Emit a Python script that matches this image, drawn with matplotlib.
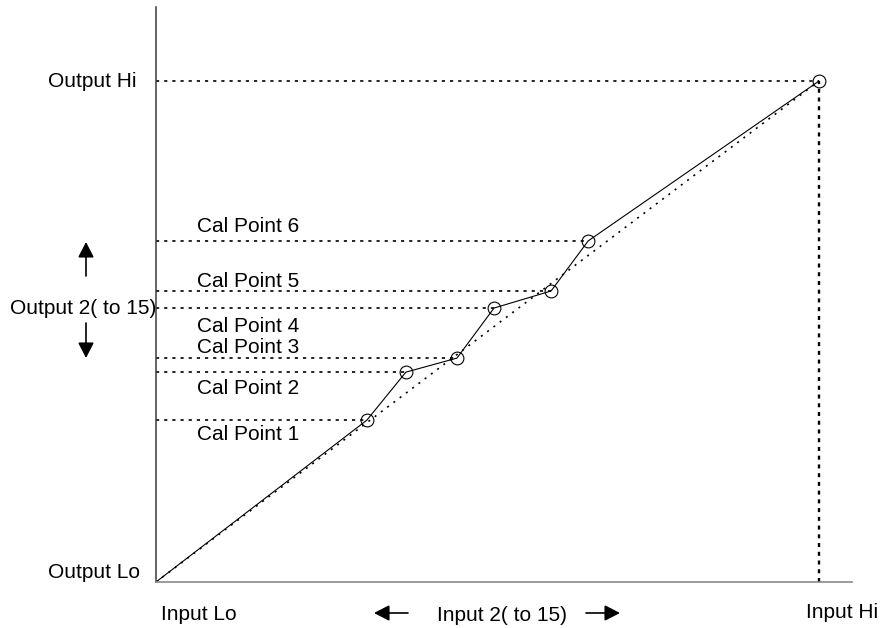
import matplotlib
matplotlib.use("Agg")
import matplotlib.pyplot as plt

plt.rcParams['font.family'] = ['Liberation Sans', 'DejaVu Sans']

# Calibration data (input and output in % of span, Lo = 0, Hi = 100)
cal_labels = ["Cal Point 1", "Cal Point 2", "Cal Point 3",
              "Cal Point 4", "Cal Point 5", "Cal Point 6"]
cal_in = [31.8, 37.7, 45.4, 51.0, 59.6, 65.2]
cal_out = [32.3, 41.9, 44.7, 54.7, 58.1, 68.1]
input_lo, input_hi = 0.0, 100.0
output_lo, output_hi = 0.0, 100.0

W, H = 880, 628
fig = plt.figure(figsize=(W / 100, H / 100), dpi=100)
ax = fig.add_axes([156 / W, (H - 582) / H, 696 / W, 575 / H])
ax.set_xlim(0, 105.0)
ax.set_ylim(0, 114.8)
ax.set_xticks([])
ax.set_yticks([])
for s in ("top", "right"):
    ax.spines[s].set_visible(False)
ax.spines["left"].set_color("#3c3c3c")
ax.spines["left"].set_linewidth(1.1)
ax.spines["bottom"].set_color("#8a8a8a")
ax.spines["bottom"].set_linewidth(1.2)

dot = dict(color="black", linewidth=1.2, dashes=(1.9, 3.0))

# Projection lines from each calibration point to the output axis
for xi, yi in zip(cal_in, cal_out):
    ax.plot([input_lo, xi], [yi, yi], **dot)
ax.plot([input_lo, input_hi], [output_hi, output_hi], **dot)
ax.plot([input_hi, input_hi], [output_lo, output_hi], color="black",
        linewidth=1.7, dashes=(1.7, 2.0))

# Ideal linear response
ax.plot([input_lo, input_hi], [output_lo, output_hi], color="black",
        linewidth=1.2, dashes=(1.2, 3.5))

# Calibrated response through the points
xs = [input_lo] + cal_in + [input_hi]
ys = [output_lo] + cal_out + [output_hi]
ax.plot(xs, ys, color="black", linewidth=0.8)
ax.plot(cal_in + [input_hi], cal_out + [output_hi], linestyle="none",
        marker="o", markersize=9.2, markerfacecolor="none",
        markeredgecolor="black", markeredgewidth=0.8, clip_on=False)

fs = 15


def label(px, py, text, ha="left"):
    fig.text(px / W, (H - py) / H, text, fontsize=fs, ha=ha, va="baseline",
             color="black")


label(48, 87, "Output Hi")
label(48, 578, "Output Lo")
label(10, 314, "Output 2( to 15)")
label(161, 620, "Input Lo")
label(806, 618, "Input Hi")
label(437, 621, "Input 2( to 15)")

cal_baselines = [440, 394, 353, 332, 287, 232]
for name, b in zip(cal_labels, cal_baselines):
    label(197, b, name)


def arrow(x0, y0, x1, y1):
    ax.annotate("", xy=(x1, H - y1), xytext=(x0, H - y0),
                xycoords="figure pixels", textcoords="figure pixels",
                arrowprops=dict(arrowstyle="-|>,head_length=0.62,head_width=0.32",
                                color="black", lw=1.2, mutation_scale=15,
                                shrinkA=0, shrinkB=0))


arrow(86, 276, 86, 242)
arrow(86, 323, 86, 358)
arrow(408, 613, 374, 613)
arrow(586, 613, 620, 613)

fig.savefig("out.png", dpi=100, facecolor="white")
